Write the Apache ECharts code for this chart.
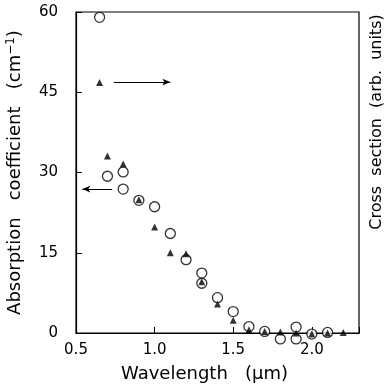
<!DOCTYPE html>
<html><head><meta charset="utf-8">
<script src="https://cdn.jsdelivr.net/npm/echarts@6/dist/echarts.min.js"></script>
<style>html,body{margin:0;padding:0;background:#fff}#c{width:390px;height:388px}</style>
</head><body><div id="c"></div>
<script>
const circleX = [0.65, 0.7, 0.8, 0.8, 0.9, 1.0, 1.1, 1.2, 1.3, 1.3, 1.4, 1.5, 1.6, 1.7, 1.8, 1.9, 1.9, 2.0, 2.1];
const circleY = [59.0, 29.3, 30.1, 26.9, 24.8, 23.6, 18.6, 13.7, 11.2, 9.3, 6.6, 4.0, 1.2, 0.3, -1.1, 1.1, -1.1, -0.2, 0.1];
const triX = [0.65, 0.7, 0.8, 0.9, 1.0, 1.1, 1.2, 1.3, 1.4, 1.5, 1.6, 1.7, 1.8, 1.9, 2.0, 2.1, 2.2];
const triY = [46.8, 33.1, 31.6, 24.9, 19.8, 15.0, 14.8, 9.6, 5.4, 2.4, 0.6, 0.3, 0.2, 0.0, -0.2, 0.0, 0.1];
const xTicks = [0.5, 1.0, 1.5, 2.0];
const yTicks = [0, 15, 30, 45, 60];
const arrowRight = [[0.74, 46.9], [1.10, 46.9]];
const arrowLeft = [[0.73, 26.9], [0.54, 26.9]];

const font = 'DejaVu Sans';
const chart = echarts.init(document.getElementById('c'));
chart.setOption({
  animation: false,
  grid: { left: 76, right: 31, top: 12, bottom: 55, show: true, borderColor: '#000', borderWidth: 1.2,
    containLabel: false, outerBoundsMode: 'none' },
  graphic: [{
    type: 'text', x: 377, y: 122, rotation: Math.PI / 2,
    style: { text: 'Cross  section  (arb.  units)', fill: '#000', fontSize: 16, fontFamily: font,
      align: 'center', verticalAlign: 'middle' }
  }],
  xAxis: {
    type: 'value', min: 0.5, max: 2.3, interval: 0.5,
    axisLine: { show: true, lineStyle: { color: '#000', width: 1.2 } },
    axisTick: { show: true, inside: true, length: 6, lineStyle: { color: '#000' } },
    splitLine: { show: false },
    axisLabel: { color: '#000', fontSize: 15, fontFamily: font, margin: 10,
      formatter: v => xTicks.includes(v) ? v.toFixed(1) : '' },
    name: 'Wavelength   (\u03bcm)', nameLocation: 'middle', nameGap: 32,
    nameTextStyle: { color: '#000', fontSize: 18, fontFamily: font, padding: [0, 26, 0, 0] }
  },
  yAxis: [{
    type: 'value', min: 0, max: 60, interval: 15,
    axisLine: { show: true, lineStyle: { color: '#000', width: 1.2 } },
    axisTick: { show: true, inside: true, length: 6, lineStyle: { color: '#000' } },
    splitLine: { show: false },
    axisLabel: { color: '#000', fontSize: 15, fontFamily: font, margin: 18,
      formatter: v => yTicks.includes(v) ? String(v) : '' },
    name: '{t|Absorption   coefficient   (cm}{s|\u22121}{t|)}', nameLocation: 'middle', nameGap: 50,
    nameTextStyle: { rich: {
      t: { color: '#000', fontSize: 18, fontFamily: font },
      s: { color: '#000', fontSize: 12, fontFamily: font, verticalAlign: 'bottom', padding: [0,0,9,0] }
    } }
  }],
  series: [{
    type: 'scatter', clip: false,
    data: circleX.map((x, i) => [x, circleY[i]]),
    symbol: 'circle', symbolSize: 10,
    itemStyle: { color: '#fff', borderColor: '#000', borderWidth: 1.3 },
    markLine: {
      silent: true, symbol: ['none', 'arrow'], symbolSize: [5, 8],
      label: { show: false },
      lineStyle: { color: '#000', width: 1, type: 'solid' },
      data: [
        [{ coord: arrowRight[0] }, { coord: arrowRight[1] }],
        [{ coord: arrowLeft[0] }, { coord: arrowLeft[1] }]
      ]
    }
  }, {
    type: 'scatter', clip: false,
    data: triX.map((x, i) => [x, triY[i]]),
    symbol: 'triangle', symbolSize: 7,
    itemStyle: { color: '#000' }
  }]
});
</script></body></html>
